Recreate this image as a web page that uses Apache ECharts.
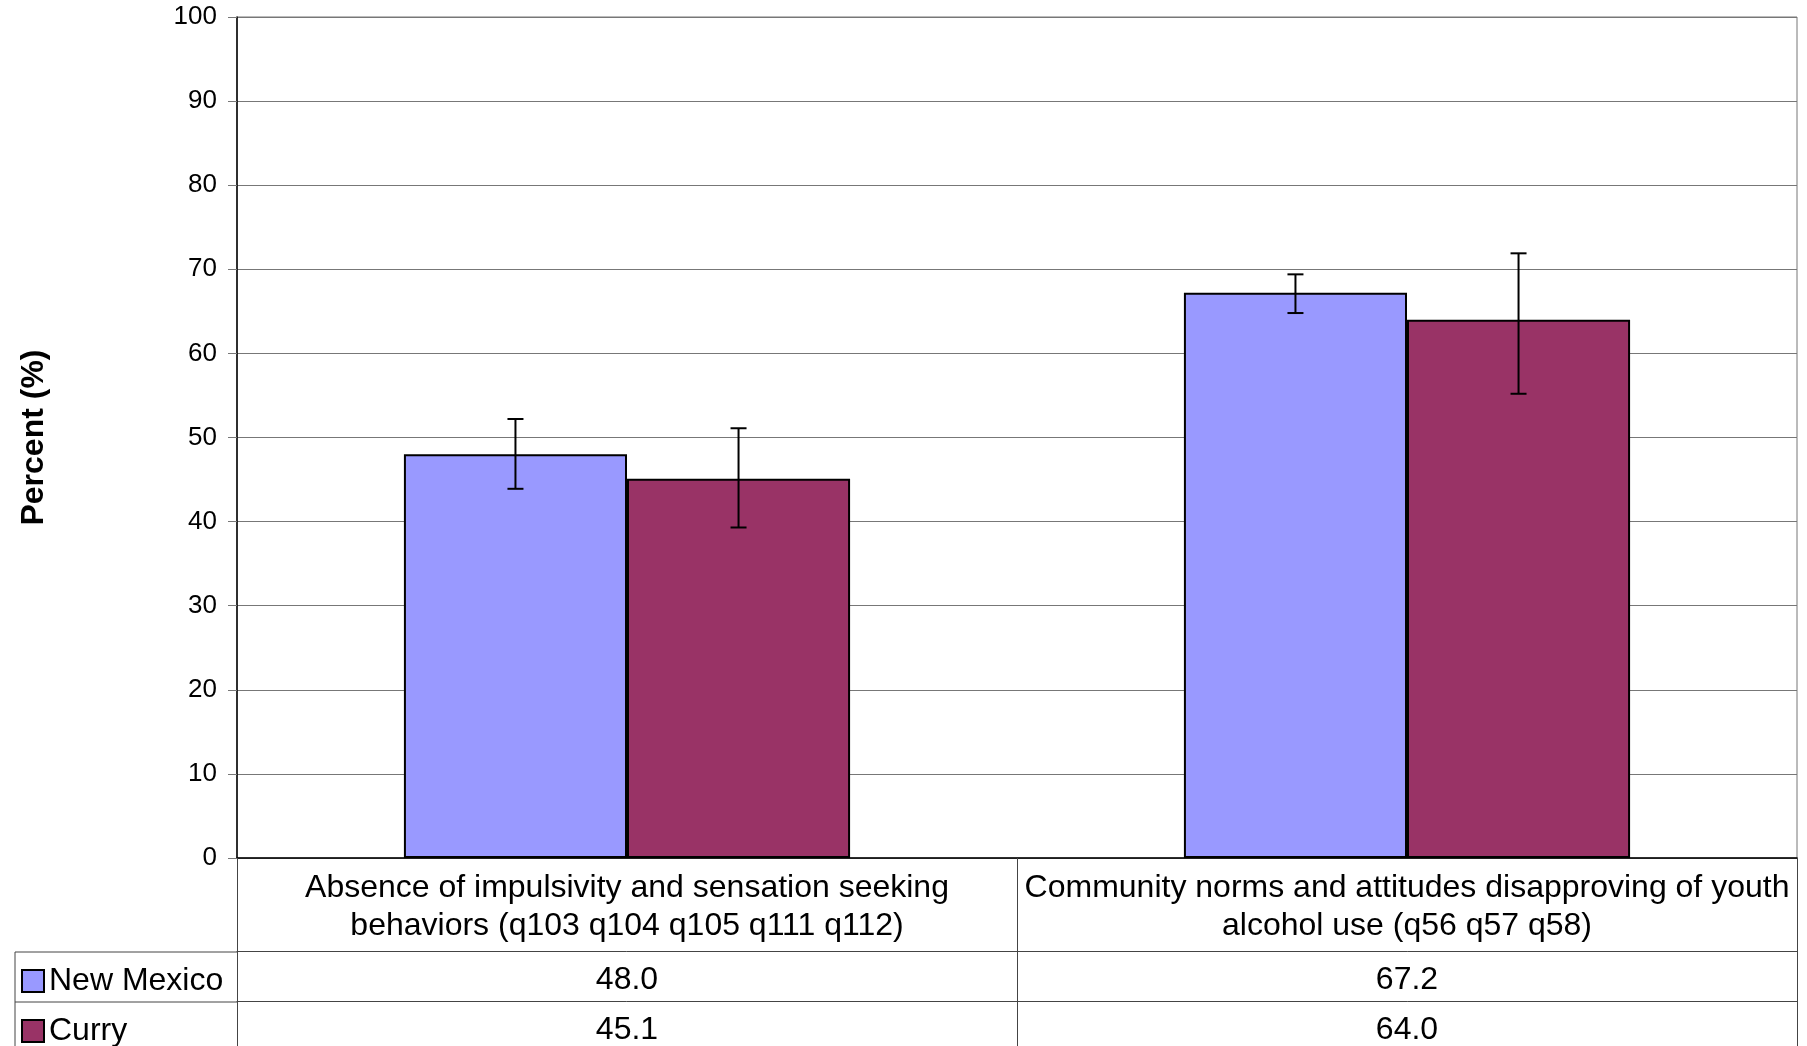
<!DOCTYPE html>
<html>
<head>
<meta charset="utf-8">
<script src="https://cdn.jsdelivr.net/npm/echarts@6/dist/echarts.min.js"></script>
<style>
  html, body { margin: 0; padding: 0; background: #fff; }
  #chart { width: 1807px; height: 1046px; }
</style>
</head>
<body>
<div id="chart"></div>
<script>
// data
const categories = [
  'Absence of impulsivity and sensation seeking\nbehaviors (q103 q104 q105 q111 q112)',
  'Community norms and attitudes disapproving of youth\nalcohol use (q56 q57 q58)'
];
const seriesNames = ['New Mexico', 'Curry'];
const nmValues = [48.0, 67.2];
const curryValues = [45.1, 64.0];
const nmLow = [43.9, 64.8];
const nmHigh = [52.2, 69.4];
const curryLow = [39.3, 55.2];
const curryHigh = [51.1, 71.9];
const yTicks = { min: 0, max: 100, interval: 10 };

const FONT = 'Liberation Sans, Arial, sans-serif';
const GAP = 0.428;           // barCategoryGap as fraction
const GRID_L = 237, GRID_R = 10, GRID_T = 17, GRID_B = 187;
const ROW1 = 93, ROW2 = 50;  // table row heights
const axisY = 1046 - GRID_B;

const chart = echarts.init(document.getElementById('chart'));

function errorSeries(name, low, high, side) {
  return {
    type: 'custom',
    name: name + ' err',
    z: 10,
    data: low.map((l, i) => [i, l, high[i]]),
    encode: { x: 0, y: [1, 2] },
    renderItem(params, api) {
      const i = api.value(0);
      const lo = api.coord([i, api.value(1)]);
      const hi = api.coord([i, api.value(2)]);
      const band = api.size([1, 0])[0];
      const bw = band * (1 - GAP) / 2;
      const x = lo[0] + side * bw / 2;
      const cap = 8;
      const st = { stroke: '#000', lineWidth: 2 };
      return {
        type: 'group',
        children: [
          { type: 'line', shape: { x1: x, y1: hi[1], x2: x, y2: lo[1] }, style: st },
          { type: 'line', shape: { x1: x - cap, y1: hi[1], x2: x + cap, y2: hi[1] }, style: st },
          { type: 'line', shape: { x1: x - cap, y1: lo[1], x2: x + cap, y2: lo[1] }, style: st }
        ]
      };
    }
  };
}

function tableAxis(vals, offset, len) {
  return {
    type: 'category',
    data: categories,
    position: 'bottom',
    offset: offset,
    boundaryGap: true,
    axisLine: { show: true, lineStyle: { color: '#444', width: 1 } },
    axisTick: { show: true, length: len, inside: false, lineStyle: { color: '#444', width: 1 } },
    axisLabel: {
      interval: 0, margin: 13, color: '#000', fontFamily: FONT, fontSize: 32, lineHeight: 32,
      formatter: (v, i) => vals[i].toFixed(1)
    },
    splitLine: { show: false }
  };
}

const option = {
  backgroundColor: '#fff',
  animation: false,
  textStyle: { fontFamily: FONT },
  grid: {
    left: GRID_L, right: GRID_R, top: GRID_T, bottom: GRID_B,
    show: true, borderColor: '#777', borderWidth: 1
  },
  legend: {
    data: seriesNames,
    orient: 'vertical',
    left: 21,
    top: 965,
    width: 210,
    height: 200,
    padding: 0,
    itemGap: 18,
    itemWidth: 22,
    itemHeight: 22,
    icon: 'rect',
    itemStyle: { borderColor: '#000', borderWidth: 2 },
    textStyle: { fontFamily: FONT, fontSize: 32, lineHeight: 32, color: '#000', padding: [0, 0, 0, 0] }
  },
  xAxis: [
    {
      type: 'category',
      data: categories,
      boundaryGap: true,
      axisLine: { show: true, lineStyle: { color: '#000', width: 1.5 } },
      axisTick: { show: true, length: ROW1, inside: false, lineStyle: { color: '#444', width: 1 } },
      axisLabel: {
        interval: 0, margin: 11, color: '#000', fontFamily: FONT, fontSize: 32, lineHeight: 38
      },
      splitLine: { show: false }
    },
    tableAxis(nmValues, ROW1, ROW2),
    tableAxis(curryValues, ROW1 + ROW2, ROW2 + 10)
  ],
  yAxis: {
    type: 'value',
    min: yTicks.min,
    max: yTicks.max,
    interval: yTicks.interval,
    name: 'Percent (%)',
    nameLocation: 'middle',
    nameGap: 187,
    nameRotate: 90,
    nameTextStyle: { fontFamily: FONT, fontSize: 32, fontWeight: 'bold', color: '#000' },
    axisLine: { show: true, lineStyle: { color: '#000', width: 1.5 } },
    axisTick: { show: true, length: 9, inside: false, lineStyle: { color: '#777' } },
    axisLabel: { margin: 20, color: '#000', fontFamily: FONT, fontSize: 26 },
    splitLine: { show: true, lineStyle: { color: '#777', width: 1 } }
  },
  series: [
    {
      name: seriesNames[0], type: 'bar', data: nmValues,
      barGap: 0, barCategoryGap: (GAP * 100) + '%',
      itemStyle: { color: '#9999FF', borderColor: '#000', borderWidth: 2 }
    },
    {
      name: seriesNames[1], type: 'bar', data: curryValues,
      barGap: 0, barCategoryGap: (GAP * 100) + '%',
      itemStyle: { color: '#993366', borderColor: '#000', borderWidth: 2 }
    },
    errorSeries(seriesNames[0], nmLow, nmHigh, -1),
    errorSeries(seriesNames[1], curryLow, curryHigh, 1)
  ],
  graphic: [
    // left part of the data table (row header column)
    { type: 'line', shape: { x1: 15, y1: axisY + ROW1, x2: GRID_L, y2: axisY + ROW1 }, style: { stroke: '#444', lineWidth: 1 } },
    { type: 'line', shape: { x1: 15, y1: axisY + ROW1 + ROW2, x2: GRID_L, y2: axisY + ROW1 + ROW2 }, style: { stroke: '#444', lineWidth: 1 } },
    { type: 'line', shape: { x1: 15, y1: axisY + ROW1, x2: 15, y2: 1046 }, style: { stroke: '#444', lineWidth: 1 } }
  ]
};

chart.setOption(option);
</script>
</body>
</html>
